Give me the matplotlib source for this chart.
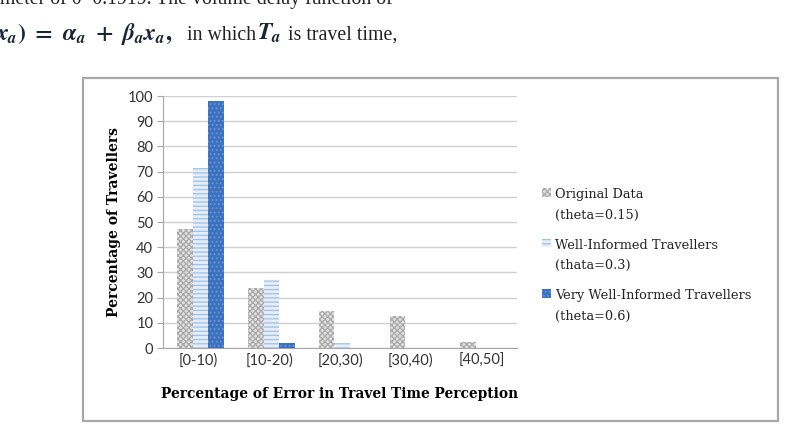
import numpy as np
import matplotlib.pyplot as plt
from matplotlib.patches import Rectangle
from matplotlib.legend_handler import HandlerPatch

categories = ["[0-10)", "[10-20)", "[20,30)", "[30,40)", "[40,50]"]
original = [47.2, 23.9, 14.8, 12.7, 2.3]
well_informed = [71.5, 27.0, 2.1, 0, 0]
very_well = [98.1, 2.1, 0, 0, 0]
series_labels = ["Original Data\n(theta=0.15)",
                 "Well-Informed Travellers\n(thata=0.3)",
                 "Very Well-Informed Travellers\n(theta=0.6)"]

plt.rcParams["mathtext.fontset"] = "custom"
plt.rcParams["mathtext.it"] = "STIXGeneral:italic:bold"
plt.rcParams["mathtext.rm"] = "STIXGeneral:bold"
plt.rcParams["mathtext.bf"] = "STIXGeneral:bold"
plt.rcParams["mathtext.fallback"] = "stix"
plt.rcParams["hatch.linewidth"] = 0.9

fig = plt.figure(figsize=(7.9, 4.28), dpi=100)

# scanned paper text above the chart
serif = "Liberation Serif"
cam = "DejaVu Serif"
fig.text(-0.012, 1 - 4 / 428, "ameter of 0~0.1919. The volume delay function of",
         fontsize=14.3, family=serif, va="baseline", color="#222222")
fig.text(-0.006, 1 - 40 / 428, r"$x_a)\ =\ \alpha_a\ +\ \beta_a x_a,$",
         fontsize=17, va="baseline", color="#1c2535")
fig.text(187 / 790, 1 - 40 / 428, "in which", fontsize=14.3, family=serif,
         va="baseline", color="#222222")
fig.text(257 / 790, 1 - 40 / 428, r"$T_a$", fontsize=17, va="baseline",
         color="#1c2535")
fig.text(288 / 790, 1 - 40 / 428, "is travel time,", fontsize=14.3, family=serif,
         va="baseline", color="#222222")

# chart frame
fig.patches.append(Rectangle((83 / 790, 7 / 428), 695 / 790, 343 / 428,
                             transform=fig.transFigure, fill=False,
                             edgecolor="#a8a8a8", linewidth=1.6))

ax = fig.add_axes([163 / 790, 1 - 348 / 428, 354 / 790, 252 / 428])
x = np.arange(len(categories))
w = 0.22
b1 = ax.bar(x - w + 0.03, original, w, facecolor="#e2e2e2", edgecolor="#a8a8a8",
            hatch="xxxxxx", linewidth=0, zorder=3)
b2 = ax.bar(x + 0.03, well_informed, w, facecolor="#e4edf8", edgecolor="#a3bfe6",
            hatch="----", linewidth=0, zorder=3)
b3 = ax.bar(x + w + 0.03, very_well, w, facecolor="#3c71c0", edgecolor="#6793d4",
            hatch="....", linewidth=0, zorder=3)

ax.set_xlim(-0.5, len(categories) - 0.5)
ax.set_ylim(0, 100)
ax.set_yticks(np.arange(0, 101, 10))
ax.set_xticks(x)
ax.set_xticklabels(categories)
ax.yaxis.grid(True, color="#d0d0d0", linewidth=1, zorder=0)
ax.set_axisbelow(True)
for s in ["top", "right"]:
    ax.spines[s].set_visible(False)
ax.spines["left"].set_color("#a6a6a6")
ax.spines["bottom"].set_color("#a6a6a6")
ax.tick_params(axis="y", length=4, color="#a6a6a6", labelsize=10.5,
               labelcolor="#333333", pad=3)
ax.tick_params(axis="x", length=0, labelsize=10.5, labelcolor="#333333", pad=4)
for lab in ax.get_xticklabels() + ax.get_yticklabels():
    lab.set_family("Lato")

ax.set_ylabel("Percentage of Travellers", family=cam, fontweight="bold",
              fontsize=10.0, labelpad=5)
ax.set_xlabel("Percentage of Error in Travel Time Perception", family=cam,
              fontweight="bold", fontsize=9.95, labelpad=14)


def top_square(legend, orig_handle, xdescent, ydescent, width, height, fontsize):
    s = fontsize * 0.68
    return Rectangle((-xdescent, -ydescent + fontsize * 1.0), s, s)


handles = [b1.patches[0], b2.patches[0], b3.patches[0]]
leg = fig.legend(handles=handles, labels=series_labels, loc="upper left",
                 bbox_to_anchor=(542 / 790, 1 - 188 / 428), frameon=False,
                 prop={"family": cam, "size": 9.3}, handlelength=0.68,
                 handleheight=0.68, handletextpad=0.35, labelspacing=1.3,
                 borderpad=0, borderaxespad=0,
                 handler_map={Rectangle: HandlerPatch(patch_func=top_square)})
for t in leg.get_texts():
    t.set_linespacing(1.78)
    t.set_color("#222222")

fig.savefig("out.png", dpi=100)
